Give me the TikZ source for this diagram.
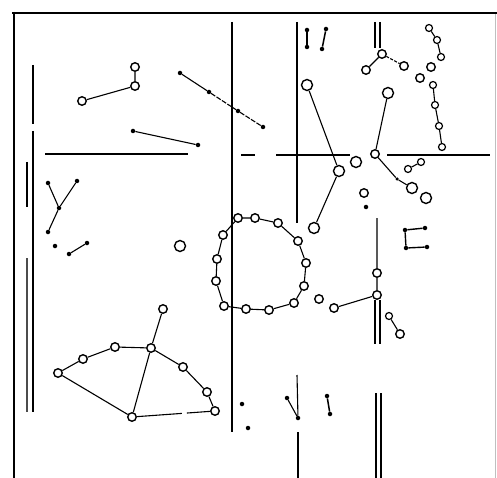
\documentclass[tikz,border=0pt]{standalone}
\begin{document}
\begin{tikzpicture}[x=1pt,y=-1pt,
  oc/.style={circle,draw,line width=1.4pt,inner sep=0pt,minimum size=8.5pt},
  boc/.style={oc,minimum size=11pt},
  soc/.style={oc,minimum size=7pt,line width=1.2pt},
  dt/.style={circle,fill,inner sep=0pt,minimum size=4.5pt},
  ln/.style={line width=1.1pt},
  rule/.style={line width=1.2pt},
  frame/.style={line width=2.6pt}]
\useasboundingbox (0,0) rectangle (497,478);
% frame
\draw[frame] (12,13) -- (497,13);
\draw[frame] (14,12) -- (14,478);
\draw[black!25,line width=0.6pt] (495,14) -- (495,478);
% rules
\draw[rule] (33,65) -- (33,124) (33,131) -- (33,412);
\draw[rule] (27,162) -- (27,207);
\draw[rule,black!70] (27,258) -- (27,412);
\draw[rule] (45,154) -- (188,154);
\draw[rule] (241,155) -- (255,155) (276,155) -- (350,155) (387,155) -- (490,155);
\draw[rule] (232,22) -- (232,432);
\draw[rule] (297,22) -- (297,223);
\draw[rule] (375,22) -- (375,48) (380,22) -- (380,48);
\draw[rule] (375,300) -- (375,344) (380,300) -- (380,344);
\draw[rule] (298,432) -- (298,478);
\draw[rule] (376,393) -- (376,478) (381,393) -- (381,478);
% top-left
\node[oc] (a1) at (82,101) {};
\node[oc] (a2) at (135,86) {};
\node[oc] (a3) at (135,67) {};
\draw[ln] (a1) -- (a2) -- (a3);
\node[dt] (b1) at (180,73) {};
\node[dt] (b2) at (209,92) {};
\node[dt] (b3) at (238,111) {};
\node[dt] (b4) at (263,127) {};
\draw[ln] (b1) -- (b2);
\draw[ln,dash pattern=on 5pt off 1.5pt] (b2) -- (b3) -- (b4);
\node[dt] (c1) at (133,131) {};
\node[dt] (c2) at (198,145) {};
\draw[ln] (c1) -- (c2);
% Y
\node[dt] (y0) at (59,208) {};
\node[dt] (y1) at (48,183) {};
\node[dt] (y2) at (77,181) {};
\node[dt] (y3) at (48,232) {};
\draw[ln] (y1) -- (y0) (y2) -- (y0) (y3) -- (y0);
\node[dt] (y4) at (55,246) {};
\node[dt] (y5) at (69,254) {};
\node[dt] (y6) at (87,243) {};
\draw[ln] (y5) -- (y6);
\node[boc] (iso) at (180,246) {};
% top middle dumbbells
\node[dt] (d1) at (307,30) {};
\node[dt] (d2) at (307,47) {};
\draw[line width=2pt] (d1) -- (d2);
\node[dt] (d3) at (326,29) {};
\node[dt] (d4) at (322,49) {};
\draw[line width=1.5pt] (d3) -- (d4);
% top right cluster
\node[oc] (t0) at (382,54) {};
\node[oc] (t1) at (366,70) {};
\node[oc] (t2) at (404,66) {};
\draw[ln] (t0) -- (t1);
\draw[ln,dash pattern=on 3pt off 1.5pt] (t0) -- (t2);
\node[soc] (e1) at (429,28) {};
\node[soc] (e2) at (437,40) {};
\node[soc] (e3) at (441,57) {};
\draw[ln] (e1) -- (e2) -- (e3);
\node[oc] (f1) at (431,67) {};
\node[oc] (f2) at (420,78) {};
\node[soc] (g1) at (433,85) {};
\node[soc] (g2) at (435,105) {};
\node[soc] (g3) at (439,126) {};
\node[soc] (g4) at (442,147) {};
\draw[ln] (g1) -- (g2) -- (g3) -- (g4);
\node[boc] (h1) at (388,93) {};
\node[oc] (h2) at (375,154) {};
\node[dt,minimum size=3.5pt] (h3) at (397,179) {};
\node[boc] (h4) at (412,188) {};
\draw[ln] (h1) -- (h2) -- (h3) -- (h4);
\node[boc] (h5) at (426,198) {};
\node[boc] (i0) at (356,162) {};
\node[boc] (j1) at (307,85) {};
\node[boc] (j2) at (339,171) {};
\node[boc] (j3) at (314,228) {};
\draw[ln] (j1) -- (j2) -- (j3);
\node[soc] (k1) at (408,169) {};
\node[soc] (k2) at (421,162) {};
\draw[ln] (k1) -- (k2);
\node[oc] (l1) at (364,193) {};
\node[dt] (l2) at (366,207) {};
% bracket
\node[dt] (m1) at (405,230) {};
\node[dt] (m2) at (425,228) {};
\node[dt] (m3) at (406,248) {};
\node[dt] (m4) at (427,247) {};
\draw[line width=1.4pt] (m2) -- (m1) -- (m3) -- (m4);
% ring
\foreach \n/\x/\y in {1/238/218,2/255/218,3/278/223,4/298/241,5/306/263,6/304/286,7/294/303,8/269/310,9/246/309,10/224/306,11/216/281,12/217/259,13/223/235}
  \node[oc] (q\n) at (\x,\y) {};
\draw[ln] (q1) -- (q2) -- (q3) -- (q4) -- (q5) -- (q6) -- (q7) -- (q8) -- (q9) -- (q10) -- (q11) -- (q12) -- (q13) -- (q1);
% right middle
\node[oc] (p1) at (319,299) {};
\node[oc] (p2) at (334,308) {};
\node[oc] (r1) at (377,273) {};
\node[oc] (r2) at (377,295) {};
\coordinate (rtop) at (377,218);
\draw[ln] (rtop) -- (r1) -- (r2) -- (p2);
\node[soc] (s1) at (389,316) {};
\node[oc] (s2) at (400,334) {};
\draw[ln] (s1) -- (s2);
% bottom-left graph
\node[oc] (n0) at (151,348) {};
\node[oc] (n1) at (163,309) {};
\node[oc] (n2) at (115,347) {};
\node[oc] (n3) at (83,359) {};
\node[oc] (n4) at (58,373) {};
\node[oc] (n5) at (132,417) {};
\node[oc] (n6) at (183,367) {};
\node[oc] (n7) at (207,392) {};
\node[oc] (n8) at (215,411) {};
\draw[ln] (n0) -- (n1) (n0) -- (n2) -- (n3) -- (n4) -- (n5) -- (n0) (n0) -- (n6) -- (n7) -- (n8);
\draw[ln,dash pattern=on 45pt off 5pt on 30pt] (n5) -- (n8);
% bottom middle
\node[dt] (o1) at (242,404) {};
\node[dt] (o2) at (248,428) {};
\node[dt] (v1) at (287,398) {};
\node[dt] (v2) at (298,418) {};
\coordinate (vtop) at (297,375);
\draw[ln] (vtop) -- (v2) -- (v1);
\node[dt] (w1) at (327,396) {};
\node[dt] (w2) at (330,414) {};
\draw[line width=1.5pt] (w1) -- (w2);
\end{tikzpicture}
\end{document}
